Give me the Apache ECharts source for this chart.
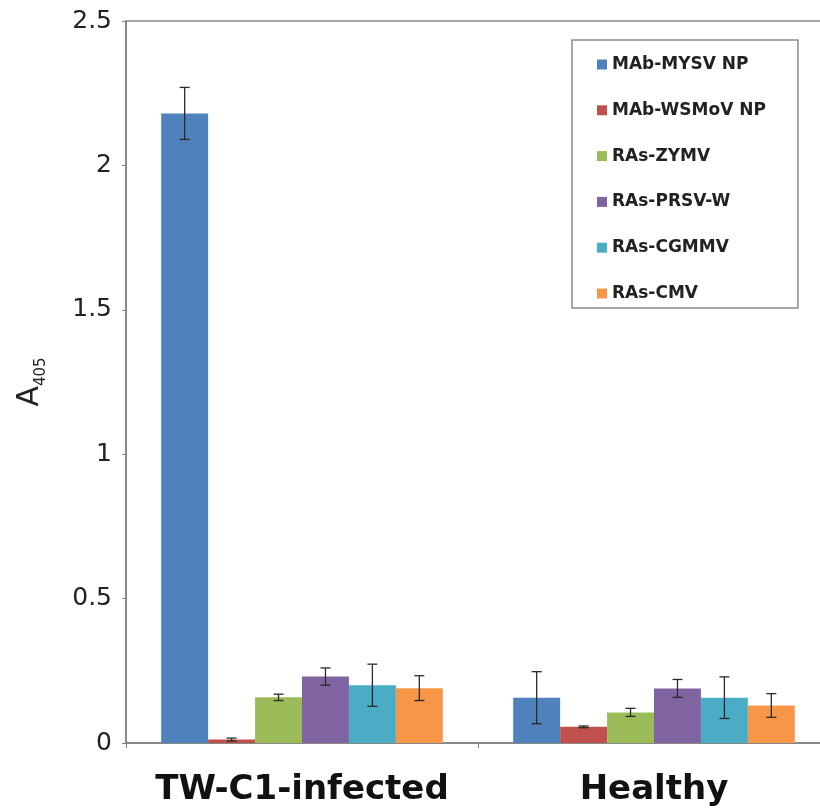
<!DOCTYPE html>
<html>
<head>
<meta charset="utf-8">
<script src="https://cdn.jsdelivr.net/npm/echarts@6/dist/echarts.min.js"></script>
<style>
html,body{margin:0;padding:0;background:#fff;}
#chart{width:820px;height:811px;}
</style>
</head>
<body>
<div id="chart"></div>
<script>
var categories = ['TW-C1-infected', 'Healthy'];
var seriesNames = ['MAb-MYSV NP', 'MAb-WSMoV NP', 'RAs-ZYMV', 'RAs-PRSV-W', 'RAs-CGMMV', 'RAs-CMV'];
var colors = ['#4F81BD', '#C0504D', '#9BBB59', '#8064A2', '#4BACC6', '#F79646'];
var meansMYSV = [2.18, 0.157];
var meansWSMoV = [0.012, 0.056];
var meansZYMV = [0.158, 0.106];
var meansPRSV = [0.23, 0.189];
var meansCGMMV = [0.20, 0.157];
var meansCMV = [0.19, 0.13];
var errMYSV = [0.09, 0.09];
var errWSMoV = [0.005, 0.003];
var errZYMV = [0.011, 0.014];
var errPRSV = [0.03, 0.031];
var errCGMMV = [0.073, 0.072];
var errCMV = [0.043, 0.041];
var yTicks = [0, 0.5, 1, 1.5, 2, 2.5];

var means = [meansMYSV, meansWSMoV, meansZYMV, meansPRSV, meansCGMMV, meansCMV];
var errs = [errMYSV, errWSMoV, errZYMV, errPRSV, errCGMMV, errCMV];
var nSeries = seriesNames.length;
var catGap = 0.2;

var chart = echarts.init(document.getElementById('chart'));
var series = [];
for (var s = 0; s < nSeries; s++) {
  series.push({
    name: seriesNames[s],
    type: 'bar',
    data: means[s],
    barGap: '0%',
    barCategoryGap: (catGap * 100) + '%',
    itemStyle: { color: colors[s] }
  });
}
var errData = [];
for (var s2 = 0; s2 < nSeries; s2++) {
  for (var c = 0; c < categories.length; c++) {
    errData.push([c, s2, means[s2][c], errs[s2][c]]);
  }
}
series.push({
  type: 'custom',
  data: errData,
  encode: { x: 0, y: 2 },
  z: 10,
  silent: true,
  renderItem: function (params, api) {
    var ci = api.value(0), si = api.value(1), m = api.value(2), e = api.value(3);
    var band = api.size([1, 0])[0];
    var groupW = band * (1 - catGap);
    var barW = groupW / nSeries;
    var center = api.coord([ci, m]);
    var x = center[0] - groupW / 2 + (si + 0.5) * barW;
    var yt = api.coord([ci, m + e])[1];
    var yb = api.coord([ci, m - e])[1];
    var hw = 5;
    var st = { stroke: '#2a2a2a', lineWidth: 1.3 };
    return {
      type: 'group',
      children: [
        { type: 'line', shape: { x1: x, y1: yt, x2: x, y2: yb }, style: st },
        { type: 'line', shape: { x1: x - hw, y1: yt, x2: x + hw, y2: yt }, style: st },
        { type: 'line', shape: { x1: x - hw, y1: yb, x2: x + hw, y2: yb }, style: st }
      ]
    };
  }
});

chart.setOption({
  animation: false,
  backgroundColor: '#fff',
  grid: { left: 126, top: 21, width: 704, bottom: 68, outerBoundsMode: 'none', containLabel: false, show: true, borderColor: '#8a8a8a', borderWidth: 1.5, backgroundColor: 'transparent' },
  legend: {
    data: seriesNames,
    orient: 'vertical',
    left: 572,
    top: 40,
    padding: [16, 32, 6, 25],
    itemGap: 28.8,
    itemWidth: 10,
    itemHeight: 10,
    icon: 'rect',
    borderColor: '#8a8a8a',
    borderWidth: 1.5,
    backgroundColor: '#fff',
    textStyle: { fontFamily: 'DejaVu Sans', fontWeight: 'bold', fontSize: 17, color: '#222' }
  },
  xAxis: {
    type: 'category',
    data: categories,
    axisLine: { lineStyle: { color: '#808080', width: 1.5 } },
    axisTick: { show: true, length: 5, lineStyle: { color: '#808080' } },
    axisLabel: { interval: 0, hideOverlap: false, fontFamily: 'DejaVu Sans', fontWeight: 'bold', fontSize: 34, color: '#111', margin: 30 }
  },
  yAxis: {
    type: 'value',
    min: yTicks[0],
    max: yTicks[yTicks.length - 1],
    interval: yTicks[1] - yTicks[0],
    splitLine: { show: false },
    axisLine: { show: true, lineStyle: { color: '#808080', width: 1.5 } },
    axisTick: { show: true, length: 4, lineStyle: { color: '#808080' } },
    axisLabel: { fontFamily: 'DejaVu Sans', fontSize: 25, color: '#222', margin: 14 },
    name: '{a|A}{s|405}',
    nameLocation: 'middle',
    nameRotate: 90,
    nameGap: 77,
    nameTextStyle: {
      rich: {
        a: { fontFamily: 'DejaVu Sans', fontSize: 30, color: '#222', verticalAlign: 'bottom', lineHeight: 30, padding: [0, 0, 4, 0] },
        s: { fontFamily: 'DejaVu Sans', fontSize: 15, color: '#222', verticalAlign: 'bottom', lineHeight: 15 }
      }
    }
  },
  series: series
});
</script>
</body>
</html>
